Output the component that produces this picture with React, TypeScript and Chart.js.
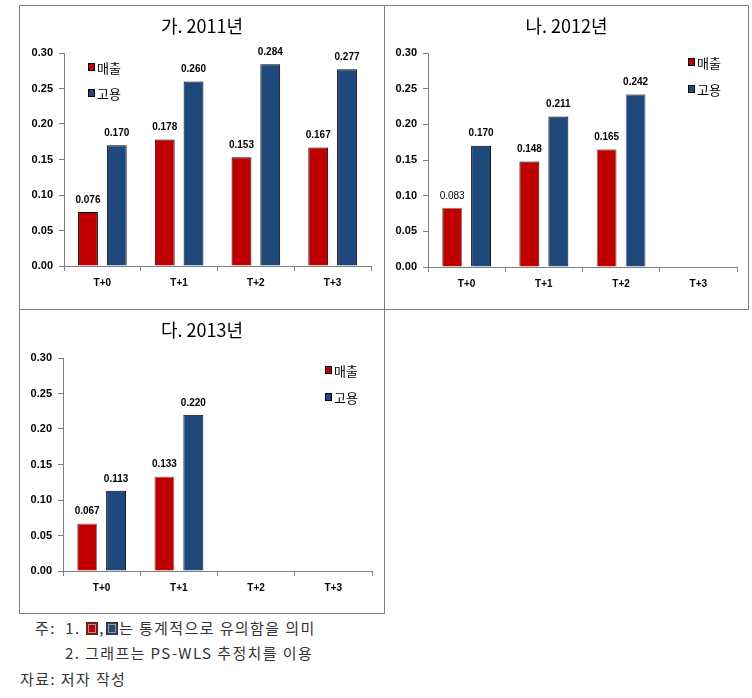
import React, { useEffect, useRef } from 'react';
import { Chart, registerables } from 'chart.js';

Chart.register(...registerables);

// ---------- data ----------
const categories = ['T+0', 'T+1', 'T+2', 'T+3'];
const yTicks = [0, 0.05, 0.1, 0.15, 0.2, 0.25, 0.3];
const seriesNames = ['매출', '고용'];

const titles = ['가. 2011년', '나. 2012년', '다. 2013년'];

const sales2011 = [0.076, 0.178, 0.153, 0.167];
const emp2011 = [0.170, 0.260, 0.284, 0.277];
const sales2012 = [0.083, 0.148, 0.165, null];
const emp2012 = [0.170, 0.211, 0.242, null];
const sales2013 = [0.067, 0.133, null, null];
const emp2013 = [0.113, 0.220, null, null];

// statistically significant flags (drawn with dark outline)
const salesSig2011 = [true, true, true, true];
const empSig2011 = [true, true, true, true];
const salesSig2012 = [false, true, false, false];
const empSig2012 = [true, true, false, false];
const salesSig2013 = [false, false, false, false];
const empSig2013 = [true, true, false, false];

// value label weight (bold or not)
const salesBold2011 = [true, true, true, true];
const empBold2011 = [true, true, true, true];
const salesBold2012 = [false, true, true, true];
const empBold2012 = [true, true, true, true];
const salesBold2013 = [true, true, true, true];
const empBold2013 = [true, true, true, true];

const noteLine1 = '는 통계적으로 유의함을 의미';
const noteLine2 = '2. 그래프는 PS-WLS 추정치를 이용';
const sourceLine = '자료: 저자 작성';

// ---------- styles ----------
const RED = '#C00000';
const BLUE = '#1F497D';
const GRAY = '#808080';
const NUM_FONT = '"Liberation Sans", Arial, sans-serif';
const KR_FONT = '"Noto Sans CJK KR", "Noto Sans", sans-serif';

const valueLabelsPlugin = {
  id: 'valueLabels',
  afterDatasetsDraw(chart: any, _args: any, opts: any) {
    const ctx = chart.ctx;
    chart.data.datasets.forEach((ds: any, di: number) => {
      const meta = chart.getDatasetMeta(di);
      meta.data.forEach((el: any, i: number) => {
        const v = ds.data[i];
        if (v == null) return;
        const bold = opts.bold[di][i];
        ctx.save();
        ctx.font = `${bold ? 'bold ' : ''}10px ${NUM_FONT}`;
        ctx.fillStyle = '#000';
        ctx.textAlign = 'center';
        ctx.textBaseline = 'bottom';
        ctx.fillText(v.toFixed(3), el.x, el.y - 7);
        ctx.restore();
      });
    });
  },
};

const inLegendPlugin = {
  id: 'inLegend',
  afterDraw(chart: any, _args: any, opts: any) {
    const ctx = chart.ctx;
    const colors = [RED, BLUE];
    seriesNames.forEach((name, i) => {
      const y = opts.y + i * opts.gap;
      ctx.save();
      ctx.fillStyle = colors[i];
      ctx.fillRect(opts.x, y - 3, 6, 7);
      ctx.strokeStyle = '#000';
      ctx.lineWidth = 1;
      ctx.strokeRect(opts.x + 0.5, y - 3.5, 6, 7);
      ctx.fillStyle = '#000';
      ctx.font = `13px ${KR_FONT}`;
      ctx.textAlign = 'left';
      ctx.textBaseline = 'middle';
      ctx.fillText(name, opts.x + 9, y + 1);
      ctx.restore();
    });
  },
};

type PanelProps = {
  left: number;
  top: number;
  width: number;
  height: number;
  title: string;
  sales: (number | null)[];
  emp: (number | null)[];
  salesSig: boolean[];
  empSig: boolean[];
  salesBold: boolean[];
  empBold: boolean[];
  padTop: number;
  padRight: number;
  yWidth: number;
  xHeight: number;
  legend: { x: number; y: number; gap: number };
};

function Panel(p: PanelProps) {
  const ref = useRef<HTMLCanvasElement>(null);
  useEffect(() => {
    if (!ref.current) return;
    const tickFont = { family: NUM_FONT, size: 11, weight: 'bold' as const };
    const chart = new Chart(ref.current, {
      type: 'bar',
      data: {
        labels: categories,
        datasets: [
          {
            label: seriesNames[0],
            data: p.sales,
            backgroundColor: RED,
            borderColor: p.salesSig.map((s) => (s ? '#000' : GRAY)),
            borderWidth: 1,
            categoryPercentage: 0.75,
            barPercentage: 0.69,
          },
          {
            label: seriesNames[1],
            data: p.emp,
            backgroundColor: BLUE,
            borderColor: p.empSig.map((s) => (s ? '#000' : GRAY)),
            borderWidth: 1,
            categoryPercentage: 0.75,
            barPercentage: 0.69,
          },
        ],
      },
      options: {
        animation: false,
        responsive: false,
        maintainAspectRatio: false,
        layout: { padding: { top: p.padTop, right: p.padRight, left: 0, bottom: 0 } },
        plugins: {
          legend: { display: false },
          tooltip: { enabled: false },
          title: { display: false },
          valueLabels: { bold: [p.salesBold, p.empBold] },
          inLegend: p.legend,
        } as any,
        scales: {
          x: {
            grid: { display: true, drawOnChartArea: false, tickLength: 5, color: GRAY, offset: true },
            border: { color: GRAY },
            ticks: { font: { family: NUM_FONT, size: 10, weight: 'bold' }, color: '#000', padding: 6 },
            afterFit: (s: any) => {
              s.height = p.xHeight;
            },
          },
          y: {
            min: 0,
            max: 0.3,
            afterBuildTicks: (axis: any) => {
              axis.ticks = yTicks.map((v) => ({ value: v }));
            },
            ticks: {
              font: tickFont,
              color: '#000',
              padding: 6,
              callback: (v: any) => Number(v).toFixed(2),
            },
            grid: { display: true, drawOnChartArea: false, tickLength: 5, color: GRAY },
            border: { color: GRAY },
            afterFit: (s: any) => {
              s.width = p.yWidth;
            },
          },
        },
      } as any,
      plugins: [valueLabelsPlugin, inLegendPlugin],
    });
    return () => chart.destroy();
  }, []);
  return (
    <>
      <canvas
        ref={ref}
        width={p.width}
        height={p.height}
        style={{ position: 'absolute', left: p.left, top: p.top, width: p.width, height: p.height }}
      />
      <div
        style={{
          position: 'absolute',
          left: p.left,
          top: p.top + 7,
          width: p.width,
          textAlign: 'center',
          fontFamily: KR_FONT,
          fontSize: 18,
          lineHeight: '24px',
          color: '#000',
        }}
      >
        {p.title}
      </div>
    </>
  );
}

const line = (left: number, top: number, width: number, height: number) => (
  <div style={{ position: 'absolute', left, top, width, height, background: GRAY }} />
);

const sq = (color: string) => (
  <span
    style={{
      display: 'inline-block',
      width: 12,
      height: 13,
      boxSizing: 'border-box',
      background: color,
      border: '1px solid #333',
      boxShadow: `inset 0 0 0 1px ${color}, inset 0 0 0 2px #999`,
      verticalAlign: '-1px',
      margin: '0 1px',
    }}
  />
);

const noteStyle: React.CSSProperties = {
  position: 'absolute',
  fontFamily: KR_FONT,
  fontSize: 15,
  letterSpacing: '1.4px',
  lineHeight: '20px',
  color: '#333',
  whiteSpace: 'nowrap',
};

export default function App() {
  return (
    <div
      style={{
        position: 'absolute',
        left: 0,
        top: 0,
        width: 752,
        height: 698,
        background: '#fff',
        overflow: 'hidden',
      }}
    >
      {line(19, 5, 730, 1)}
      {line(19, 309, 730, 1)}
      {line(19, 613, 366, 1)}
      {line(19, 5, 1, 609)}
      {line(384, 5, 1, 609)}
      {line(748, 5, 1, 305)}

      <Panel
        left={20}
        top={6}
        width={364}
        height={303}
        title={titles[0]}
        sales={sales2011}
        emp={emp2011}
        salesSig={salesSig2011}
        empSig={empSig2011}
        salesBold={salesBold2011}
        empBold={empBold2011}
        padTop={47}
        padRight={13}
        yWidth={44}
        xHeight={43}
        legend={{ x: 68, y: 61, gap: 26 }}
      />
      <Panel
        left={385}
        top={6}
        width={363}
        height={303}
        title={titles[1]}
        sales={sales2012}
        emp={emp2012}
        salesSig={salesSig2012}
        empSig={empSig2012}
        salesBold={salesBold2012}
        empBold={empBold2012}
        padTop={47}
        padRight={11}
        yWidth={43}
        xHeight={42}
        legend={{ x: 303, y: 56, gap: 27 }}
      />
      <Panel
        left={20}
        top={310}
        width={364}
        height={303}
        title={titles[2]}
        sales={sales2013}
        emp={emp2013}
        salesSig={salesSig2013}
        empSig={empSig2013}
        salesBold={salesBold2013}
        empBold={empBold2013}
        padTop={48}
        padRight={12}
        yWidth={43}
        xHeight={42}
        legend={{ x: 305, y: 60, gap: 27 }}
      />

      <div style={{ ...noteStyle, left: 35, top: 618 }}>
        주:&nbsp; 1. {sq(RED)},{sq(BLUE)}
        {noteLine1}
      </div>
      <div style={{ ...noteStyle, left: 65, top: 643 }}>{noteLine2}</div>
      <div style={{ ...noteStyle, left: 20, top: 669 }}>{sourceLine}</div>
    </div>
  );
}
